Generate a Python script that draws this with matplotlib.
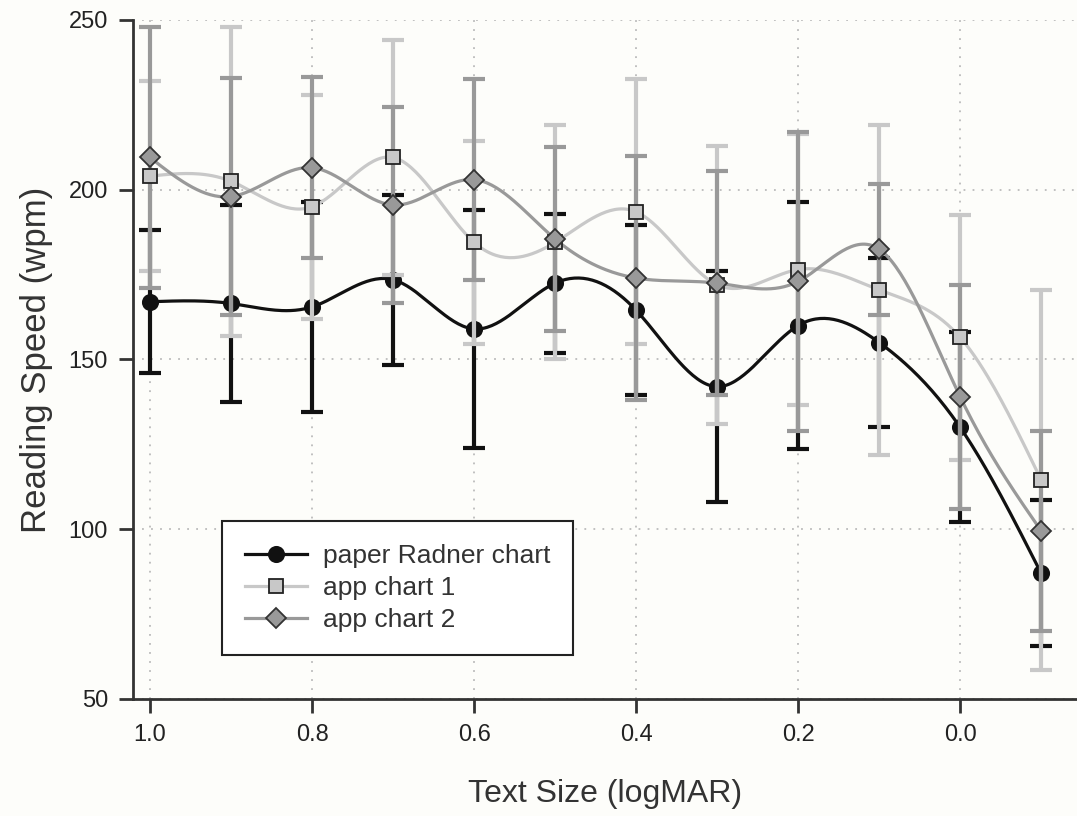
import matplotlib.pyplot as plt
import numpy as np

plt.rcParams['font.family'] = ['Liberation Sans', 'DejaVu Sans']

# text size in logMAR
logmar = [1.0, 0.9, 0.8, 0.7, 0.6, 0.5, 0.4, 0.3, 0.2, 0.1, 0.0, -0.1]

# paper Radner chart
radner = [167, 166.5, 165.5, 173.5, 159, 172.5, 164.5, 142, 160, 155, 130, 87]
radner_err = [21, 29, 31, 25, 35, 20.5, 25, 34, 36.5, 25, 28, 21.5]

# app chart 1
app1 = [204, 202.5, 195, 209.5, 184.5, 184.5, 193.5, 172, 176.5, 170.5, 156.5, 114.5]
app1_err = [28, 45.5, 33, 34.5, 30, 34.5, 39, 41, 40, 48.5, 36, 56]

# app chart 2
app2 = [209.5, 198, 206.5, 195.5, 203, 185.5, 174, 172.5, 173, 182.5, 139, 99.5]
app2_err = [38.5, 35, 26.7, 29, 29.5, 27, 36, 33, 44, 19.3, 33, 29.5]


def spline(x, y, n=400):
    # natural cubic spline, like the smoothed lines of the original
    x = np.asarray(x, float)[::-1]
    y = np.asarray(y, float)[::-1]
    k = len(x)
    h = np.diff(x)
    A = np.zeros((k, k))
    b = np.zeros(k)
    A[0, 0] = A[-1, -1] = 1
    for i in range(1, k - 1):
        A[i, i - 1] = h[i - 1]
        A[i, i] = 2 * (h[i - 1] + h[i])
        A[i, i + 1] = h[i]
        b[i] = 3 * ((y[i + 1] - y[i]) / h[i] - (y[i] - y[i - 1]) / h[i - 1])
    c = np.linalg.solve(A, b)
    xs = np.linspace(x[0], x[-1], n)
    idx = np.clip(np.searchsorted(x, xs) - 1, 0, k - 2)
    dx = xs - x[idx]
    bb = (y[idx + 1] - y[idx]) / h[idx] - h[idx] * (2 * c[idx] + c[idx + 1]) / 3
    dd = (c[idx + 1] - c[idx]) / (3 * h[idx])
    ys = y[idx] + bb * dx + c[idx] * dx ** 2 + dd * dx ** 3
    return xs, ys


bg = '#fdfdfa'
fig = plt.figure(figsize=(10.77, 8.16), dpi=100, facecolor=bg)
ax = fig.add_axes([0.1235, 0.1434, 0.876, 0.8321], facecolor=bg)

# (values, errors, colour, marker, face, edge, size, label, line z, bar z, marker z)
series = [
    (radner, radner_err, '#111111', 'o', '#111111', '#111111', 11, 'paper Radner chart', 3.0, 2.0, 3.1),
    (app1, app1_err, '#c8c8c8', 's', '#c8c8c8', '#222222', 10, 'app chart 1', 2.5, 4.0, 6.0),
    (app2, app2_err, '#999999', 'D', '#999999', '#333333', 10, 'app chart 2', 2.6, 5.0, 6.5),
]
handles = {}
for vals, err, col, mk, fc, ec, ms, lab, zl, zb, zm in series:
    ax.errorbar(logmar, vals, yerr=err, fmt='none', ecolor=col, elinewidth=3,
                capsize=8, capthick=3, zorder=zb)
    xs, ys = spline(logmar, vals)
    ax.plot(xs, ys, color=col, lw=2.3, zorder=zl)
    ax.plot(logmar, vals, ls='none', marker=mk, ms=ms, mfc=fc, mec=ec, mew=1.3,
            zorder=zm)
    handles[lab] = ax.plot([], [], color=col, lw=2.3, marker=mk, ms=ms, mfc=fc,
                           mec=ec, mew=1.3)[0]

ax.set_xlim(1.021, -0.1435)
ax.set_ylim(50, 250)
ax.set_xticks([1.0, 0.8, 0.6, 0.4, 0.2, 0.0])
ax.set_xticklabels(['1.0', '0.8', '0.6', '0.4', '0.2', '0.0'])
ax.set_yticks([50, 100, 150, 200, 250])
ax.grid(True, ls=(0, (1, 4)), color='#bbbbbb', lw=1.3)
ax.set_axisbelow(True)
for s in ['top', 'right']:
    ax.spines[s].set_visible(False)
for s in ['left', 'bottom']:
    ax.spines[s].set_linewidth(2)
    ax.spines[s].set_color('#333333')
ax.tick_params(direction='out', length=10, width=2, color='#333333',
               labelsize=17, labelcolor='#222222', pad=8)

ax.set_xlabel('Text Size (logMAR)', fontsize=23, color='#333333', labelpad=24)
ax.set_ylabel('Reading Speed (wpm)', fontsize=25, color='#333333', labelpad=11)

order = ['paper Radner chart', 'app chart 1', 'app chart 2']
leg = ax.legend([handles[k] for k in order], order, loc='lower left',
                bbox_to_anchor=(0.0944, 0.0648), borderaxespad=0, fontsize=19,
                frameon=True, fancybox=False, edgecolor='#222222',
                facecolor='white', framealpha=1, borderpad=0.86,
                handlelength=2.35, labelspacing=0.31, handletextpad=0.6)
leg.get_frame().set_linewidth(1.5)
for t in leg.get_texts():
    t.set_color('#333333')

fig.savefig('out.png', dpi=100, facecolor=bg)
